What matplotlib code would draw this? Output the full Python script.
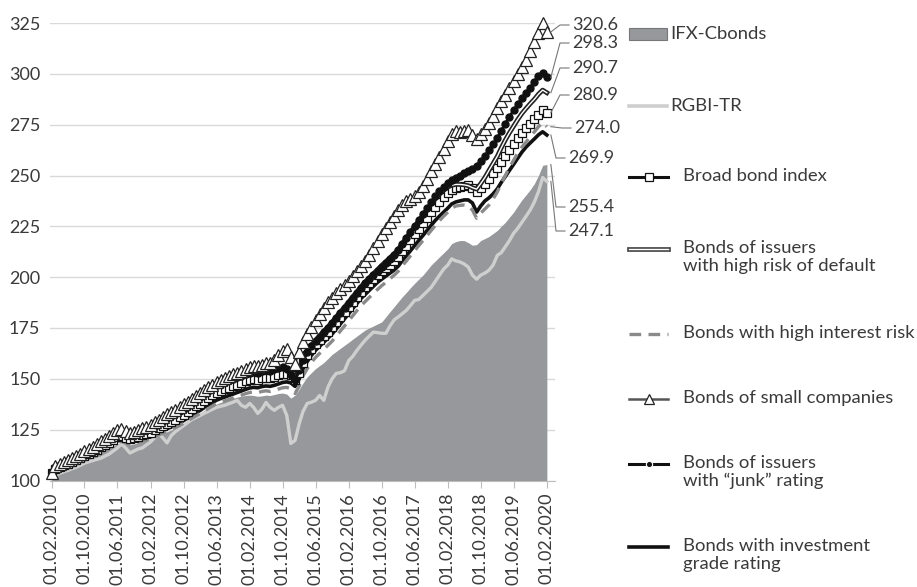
import numpy as np
import pandas as pd
import matplotlib
matplotlib.use("Agg")
import matplotlib.pyplot as plt
import matplotlib.dates as mdates
import matplotlib.patheffects as pe
from matplotlib.patches import Rectangle

plt.rcParams["font.family"] = ["Lato", "DejaVu Sans"]

# monthly index values, 01.02.2010 = start (base 100)
dates = pd.date_range("2010-02-01", "2020-02-01", freq="MS")

ifx_cbonds = [
    101.0, 103.0, 104.0, 105.0, 106.0, 107.0, 108.0, 109.0, 110.0, 111.0, 112.0, 113.0,
    114.0, 115.0, 116.0, 117.0, 118.0, 118.3, 117.8, 117.5, 118.0, 118.5, 119.0, 119.5,
    120.0, 121.0, 122.0, 123.0, 124.0, 124.8, 125.6, 126.8, 128.0, 129.3, 130.6, 131.9,
    133.2, 134.4, 135.6, 136.6, 137.6, 138.4, 139.1, 139.8, 140.5, 141.0, 141.5, 141.8,
    142.0, 141.8, 141.4, 141.6, 142.0, 141.8, 142.3, 142.8, 143.0, 142.5, 140.5, 142.0,
    145.0, 148.0, 151.0, 153.0, 155.0, 156.5, 158.0, 160.0, 162.0, 163.5, 165.0, 166.5,
    168.0, 169.5, 171.0, 172.5, 174.0, 175.0, 176.0, 177.0, 178.0, 180.5, 183.0, 185.5,
    188.0, 190.3, 192.5, 194.8, 197.0, 199.0, 201.0, 203.5, 206.0, 208.0, 210.0, 212.0,
    214.0, 216.5, 217.5, 218.0, 218.0, 217.0, 215.7, 216.0, 218.0, 219.0, 220.0, 221.5,
    223.0, 225.0, 227.0, 229.5, 232.0, 235.0, 238.0, 240.5, 243.0, 246.0, 250.0, 255.0,
    255.4,
]
rgbi_tr = [
    101.0, 102.5, 103.5, 104.3, 105.0, 105.8, 106.5, 107.5, 108.5, 109.2, 109.8, 110.4,
    111.0, 112.0, 113.0, 114.5, 116.0, 118.0, 116.0, 113.5, 114.5, 115.5, 116.0, 117.5,
    119.0, 121.0, 123.0, 121.0, 118.5, 122.0, 124.0, 125.5, 127.0, 128.5, 130.0, 131.0,
    132.0, 133.0, 134.0, 135.0, 136.0, 136.5, 137.0, 137.8, 138.5, 139.4, 137.0, 136.0,
    137.9, 136.0, 133.0, 135.0, 138.4, 136.0, 134.5, 136.0, 137.0, 132.0, 118.2, 119.7,
    128.0, 134.0, 137.9, 138.5, 139.4, 141.8, 139.4, 146.0, 150.0, 152.7, 153.0, 154.0,
    159.0, 161.0, 164.0, 166.5, 169.0, 171.0, 173.0, 172.7, 172.4, 172.4, 176.0, 179.0,
    180.5, 182.0, 183.7, 186.0, 188.6, 189.0, 191.0, 193.0, 195.0, 198.0, 201.0, 204.0,
    206.0, 209.0, 208.0, 207.5, 206.5, 205.0, 201.0, 199.0, 201.0, 202.0, 203.4, 206.0,
    210.8, 212.0, 215.0, 218.0, 221.6, 224.0, 227.0, 230.0, 233.0, 237.0, 242.0, 249.0,
    247.1,
]
broad_index = [
    103.5, 105.5, 106.6, 107.4, 108.2, 109.0, 110.0, 110.9, 111.9, 113.0, 114.1, 115.2,
    116.3, 117.4, 118.5, 119.8, 121.2, 121.8, 121.0, 120.5, 120.9, 121.6, 122.2, 122.8,
    123.6, 124.7, 125.8, 126.9, 128.0, 128.9, 129.9, 131.1, 132.4, 133.8, 135.1, 136.5,
    137.8, 139.2, 140.5, 141.9, 143.2, 144.0, 144.8, 145.6, 146.4, 147.2, 148.0, 148.8,
    149.5, 149.8, 149.6, 150.2, 150.6, 150.4, 151.0, 151.7, 152.4, 152.6, 151.8, 149.5,
    153.0, 158.0, 161.5, 164.5, 167.0, 169.0, 171.0, 173.2, 175.3, 177.8, 180.3, 182.8,
    185.3, 187.8, 190.3, 192.8, 195.0, 197.0, 199.0, 201.0, 202.8, 204.5, 206.2, 208.0,
    210.0, 212.8, 215.5, 218.3, 221.0, 223.8, 226.5, 229.3, 232.0, 234.7, 237.0, 239.2,
    241.2, 242.8, 243.8, 244.5, 245.0, 245.2, 244.0, 241.8, 244.0, 246.0, 248.5, 251.0,
    253.5, 256.5, 259.5, 262.5, 265.5, 268.3, 271.0, 273.2, 275.5, 277.8, 280.0, 282.0,
    280.9,
]
high_default_risk = [
    103.8, 106.0, 107.2, 108.0, 108.9, 109.8, 110.8, 111.8, 112.8, 114.0, 115.1, 116.3,
    117.4, 118.6, 119.8, 121.2, 122.6, 123.2, 122.3, 121.8, 122.2, 122.9, 123.6, 124.3,
    125.1, 126.3, 127.5, 128.6, 129.8, 130.8, 131.9, 133.2, 134.6, 136.0, 137.4, 138.9,
    140.3, 141.7, 143.1, 144.5, 145.9, 146.7, 147.5, 148.3, 149.1, 149.9, 150.7, 151.5,
    152.2, 152.5, 152.3, 152.9, 153.3, 153.1, 153.8, 154.5, 155.0, 154.6, 152.8, 150.5,
    155.0, 160.0, 163.5, 166.5, 169.0, 171.2, 173.4, 175.6, 177.8, 180.3, 182.8, 185.3,
    187.8, 190.3, 192.8, 195.3, 197.5, 199.6, 201.7, 203.8, 205.8, 207.7, 209.6, 211.5,
    213.7, 216.5, 219.3, 222.1, 224.9, 227.7, 230.5, 233.3, 236.0, 238.5, 240.8, 242.8,
    244.3, 245.2, 245.6, 245.6, 245.4, 245.0, 244.0, 243.3, 246.0, 249.0, 252.5, 256.0,
    259.5, 263.5, 267.5, 271.0, 274.3, 277.5, 280.5, 283.0, 285.3, 287.5, 290.0, 292.0,
    290.7,
]
high_interest_risk = [
    102.5, 104.5, 105.5, 106.2, 107.0, 107.8, 108.6, 109.4, 110.4, 111.4, 112.3, 113.3,
    114.3, 115.3, 116.3, 117.5, 118.7, 119.2, 118.4, 117.8, 118.2, 118.8, 119.3, 119.8,
    120.5, 121.5, 122.4, 123.3, 124.3, 125.1, 126.0, 127.0, 128.2, 129.4, 130.6, 131.8,
    133.0, 134.2, 135.4, 136.6, 137.8, 138.5, 139.2, 139.9, 140.6, 141.3, 142.0, 142.7,
    143.3, 143.5, 143.2, 143.8, 144.1, 143.8, 144.3, 145.0, 145.6, 145.8, 145.0, 142.8,
    146.5, 151.5, 155.0, 158.0, 160.5, 162.5, 164.5, 166.5, 168.5, 171.0, 173.5, 176.0,
    178.5, 181.0, 183.5, 186.0, 188.0, 190.0, 192.0, 194.0, 195.8, 197.5, 199.2, 201.0,
    203.0, 205.5, 208.0, 210.5, 213.0, 215.5, 218.0, 220.5, 223.0, 225.5, 227.8, 230.0,
    232.0, 234.0, 235.0, 235.3, 235.5, 235.2, 233.0, 229.0, 231.5, 233.5, 235.5, 238.5,
    242.0, 246.0, 250.0, 254.0, 257.5, 261.0, 264.0, 266.5, 269.0, 271.5, 274.0, 276.0,
    274.0,
]
small_companies = [
    103.5, 107.0, 108.0, 109.0, 110.0, 111.0, 112.0, 113.2, 114.3, 115.5, 116.7, 118.0,
    119.2, 120.5, 121.8, 123.3, 124.8, 125.3, 124.2, 123.6, 124.0, 124.8, 125.6, 126.4,
    127.3, 128.6, 129.9, 131.2, 132.5, 133.6, 134.7, 136.0, 137.4, 138.8, 140.2, 141.6,
    143.0, 144.4, 145.8, 147.2, 148.6, 149.5, 150.4, 151.3, 152.2, 153.1, 154.0, 155.0,
    155.8, 156.3, 156.2, 157.0, 157.8, 158.0, 159.5, 161.5, 163.5, 164.5, 160.5, 157.5,
    163.0, 168.0, 172.0, 175.5, 179.0, 182.0, 185.0, 187.8, 190.0, 192.0, 194.0, 196.0,
    198.2, 200.5, 203.0, 205.5, 208.0, 211.0, 214.5, 218.0, 221.0, 224.0, 227.0, 230.0,
    233.0, 235.5, 237.5, 238.5, 240.0, 242.0, 245.0, 248.5, 252.0, 255.5, 259.0, 263.0,
    267.0, 270.5, 271.8, 271.5, 272.0, 272.3, 270.0, 268.0, 270.5, 273.0, 276.0, 279.5,
    283.0, 286.5, 289.5, 293.0, 296.5, 300.0, 303.5, 307.0, 311.0, 315.5, 320.0, 324.8,
    320.6,
]
junk_rating = [
    104.0, 106.5, 107.6, 108.5, 109.4, 110.4, 111.4, 112.5, 113.5, 114.6, 115.8, 117.0,
    118.2, 119.4, 120.6, 122.0, 123.4, 124.0, 123.0, 122.5, 122.9, 123.6, 124.3, 125.0,
    125.8, 127.0, 128.2, 129.4, 130.6, 131.6, 132.7, 134.0, 135.4, 136.8, 138.2, 139.7,
    141.1, 142.5, 144.0, 145.4, 146.8, 147.6, 148.4, 149.2, 150.0, 150.8, 151.6, 152.4,
    153.0, 153.3, 153.1, 153.8, 154.3, 154.0, 154.7, 155.4, 155.8, 154.8, 152.0, 149.5,
    154.5, 159.5, 163.0, 166.0, 168.5, 170.7, 172.9, 175.1, 177.3, 179.8, 182.3, 184.8,
    187.3, 189.8, 192.3, 194.8, 197.0, 199.0, 201.0, 203.0, 205.0, 207.0, 209.0, 211.0,
    213.3, 216.2, 219.1, 222.0, 225.0, 228.0, 231.0, 234.0, 237.0, 239.8, 242.3, 244.5,
    246.3, 247.8, 249.0, 250.0, 251.0, 252.0, 253.0, 254.8, 257.0, 259.5, 262.5, 265.5,
    268.5, 272.0, 275.5, 279.0, 282.0, 285.0, 288.0, 290.5, 293.0, 296.0, 299.0, 300.5,
    298.3,
]
investment_grade = [
    103.0, 105.0, 106.0, 106.8, 107.5, 108.3, 109.2, 110.0, 111.0, 112.0, 113.0, 114.0,
    115.0, 116.0, 117.0, 118.2, 119.5, 120.0, 119.3, 118.8, 119.2, 119.8, 120.3, 120.8,
    121.5, 122.5, 123.5, 124.5, 125.5, 126.3, 127.2, 128.3, 129.5, 130.8, 132.0, 133.3,
    134.5, 135.8, 137.0, 138.3, 139.5, 140.3, 141.0, 141.8, 142.5, 143.3, 144.0, 144.8,
    145.5, 145.8, 145.6, 146.2, 146.5, 146.3, 146.8, 147.5, 148.2, 148.5, 148.0, 146.3,
    150.0, 155.0, 158.5, 161.5, 164.0, 166.0, 168.0, 170.0, 172.0, 174.5, 177.0, 179.5,
    182.0, 184.5, 187.0, 189.5, 191.5, 193.5, 195.5, 197.5, 199.0, 200.5, 202.0, 203.5,
    205.5, 208.0, 210.5, 213.0, 215.5, 218.0, 220.5, 223.0, 225.5, 228.0, 230.0, 232.0,
    234.0, 236.0, 237.0, 237.5, 238.0, 238.0, 236.5, 232.0, 235.0, 237.5, 239.0, 241.0,
    243.5, 246.5, 249.5, 252.5, 255.5, 258.5, 261.5, 264.0, 266.0, 268.0, 270.0, 271.5,
    269.9,
]

W, H = 917, 587
fig = plt.figure(figsize=(W / 100, H / 100), dpi=100)
ax = fig.add_axes([50 / W, 1 - 480.5 / H, 505 / W, (480.5 - 23) / H])

txt = "#3a3a3a"
ax.fill_between(dates, 100, ifx_cbonds, color="#97989b", lw=0, zorder=1)
ax.plot(dates, rgbi_tr, color="#cfcfcf", lw=2.4, zorder=2)
ax.plot(dates, investment_grade, color="#111111", lw=2.6, zorder=3)
ax.plot(dates, high_interest_risk, color="#8a8a8a", lw=2.4, dashes=(3.5, 2.2), zorder=4)
ax.plot(dates, broad_index, color="#111111", lw=1.8, marker="s", ms=5.2,
        mfc="white", mec="#111111", mew=0.9, zorder=5, clip_on=False)
ax.plot(dates, high_default_risk, color="white", lw=1.0, zorder=6,
        path_effects=[pe.Stroke(linewidth=3.4, foreground="#222222"), pe.Normal()])
ax.plot(dates, junk_rating, color="#111111", lw=2.0, marker="o", ms=5.0,
        mfc="#111111", mec="#111111", zorder=7, clip_on=False)
ax.plot(dates, small_companies, color="#555555", lw=1.6, marker="^", ms=8.0,
        mfc="white", mec="#222222", mew=0.9, zorder=8, clip_on=False)

ax.set_ylim(100, 325)
ax.set_yticks(np.arange(100, 326, 25))
ax.set_xlim(pd.Timestamp("2010-01-20"), pd.Timestamp("2020-04-01"))
ax.set_xticks(dates[::8])
ax.xaxis.set_major_formatter(mdates.DateFormatter("%d.%m.%Y"))
ax.yaxis.grid(True, color="#d9d9d9", lw=1.0, zorder=0)
ax.set_axisbelow(True)
for s in ["top", "right", "left"]:
    ax.spines[s].set_visible(False)
ax.spines["bottom"].set_color("#bdbdbd")
ax.spines["bottom"].set_zorder(0.5)
ax.tick_params(axis="y", length=0, pad=7, labelsize=13, labelcolor=txt)
ax.tick_params(axis="x", length=5, color="#bdbdbd", pad=4, labelsize=13,
               labelcolor=txt, labelrotation=90)

# overlay in pixel coordinates for end labels and the legend
lay = fig.add_axes([0, 0, 1, 1], zorder=10)
lay.set_xlim(0, W)
lay.set_ylim(H, 0)
lay.axis("off")

def to_px(x, y):
    d = ax.transData.transform((mdates.date2num(x), y))
    return lay.transData.inverted().transform(d)

end_labels = [
    (small_companies, 572, 25),
    (junk_rating, 572, 43),
    (high_default_risk, 572, 68),
    (broad_index, 572, 95),
    (high_interest_risk, 574, 128),
    (investment_grade, 568, 158),
    (ifx_cbonds, 568, 207),
    (rgbi_tr, 568, 231),
]
for series, tx, ty in end_labels:
    sx, sy = to_px(dates[-1], series[-1])
    sx += 4
    lay.plot([sx, tx - 12, tx - 3], [sy, ty, ty], color="#777777", lw=0.8)
    lay.text(tx, ty, f"{series[-1]:.1f}", fontsize=13, color=txt, va="center", ha="left")

# legend
fs = 13.3
lay.add_patch(Rectangle((629, 28), 38, 12, facecolor="#97989b", edgecolor="#77777a", lw=0.8))
lay.text(670, 34, "IFX-Cbonds", fontsize=fs, color=txt, va="center")
lay.plot([629, 667], [106, 106], color="#cfcfcf", lw=2.6)
lay.text(670, 106, "RGBI-TR", fontsize=fs, color=txt, va="center")

hx = [629, 648.5, 668]
lay.plot(hx, [177] * 3, color="#111111", lw=2.2, marker="s", ms=5.2, markevery=[1],
         mfc="white", mec="#111111", mew=0.9)
lay.plot([629, 668], [249, 249], color="white", lw=1.0,
         path_effects=[pe.Stroke(linewidth=3.4, foreground="#444444"), pe.Normal()])
lay.plot([629, 668], [334, 334], color="#8a8a8a", lw=2.4, dashes=(3.5, 2.2))
lay.plot(hx, [399] * 3, color="#555555", lw=1.8, marker="^", ms=7, markevery=[1],
         mfc="white", mec="#222222", mew=0.9)
lay.plot(hx, [464] * 3, color="#111111", lw=2.2, marker="o", ms=4.5, markevery=[1],
         mfc="#111111", mec="white", mew=0.8)
lay.plot([629, 668], [547, 547], color="#111111", lw=2.6)

legend_text = [
    (177, "Broad bond index"),
    (249, "Bonds of issuers\nwith high risk of default"),
    (334, "Bonds with high interest risk"),
    (399, "Bonds of small companies"),
    (464, "Bonds of issuers\nwith \u201cjunk\u201d rating"),
    (547, "Bonds with investment\ngrade rating"),
]
for y, label in legend_text:
    lay.text(683, y - 9, label, fontsize=fs, color=txt, va="top", ha="left", linespacing=1.15)

fig.savefig("out.png", dpi=100)
